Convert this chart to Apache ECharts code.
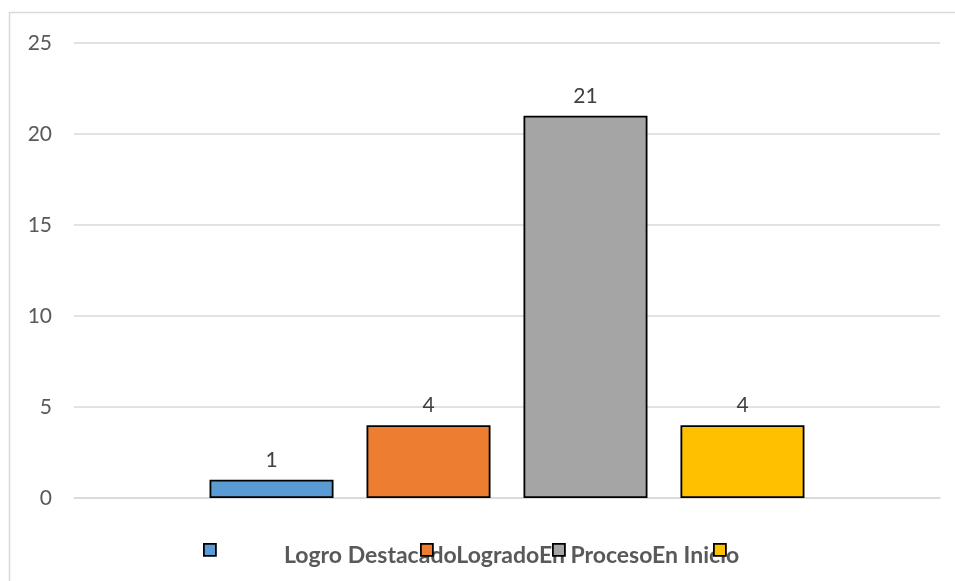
<!DOCTYPE html>
<html>
<head>
<meta charset="utf-8">
<script src="https://cdn.jsdelivr.net/npm/echarts@6/dist/echarts.min.js"></script>
<style>
  html, body { margin: 0; padding: 0; background: #ffffff; }
  #chart { width: 955px; height: 581px; }
</style>
</head>
<body>
<div id="chart"></div>
<script>
// Achievement levels and counts of students in each
const levels = ['Logro Destacado', 'Logrado', 'En Proceso', 'En Inicio'];
const counts = [1, 4, 21, 4];
const colors = ['#5b9bd5', '#ed7d31', '#a5a5a5', '#ffc000'];
const yTicks = { min: 0, max: 25, interval: 5 };

const chart = echarts.init(document.getElementById('chart'));

const series = levels.map((name, i) => ({
  name: name,
  type: 'bar',
  data: [counts[i]],
  barWidth: 124,
  barGap: '26.6%',
  itemStyle: { color: colors[i], borderColor: '#000000', borderWidth: 1.8 },
  label: {
    show: true,
    position: 'top',
    distance: 9,
    color: '#404040',
    fontFamily: 'Lato',
    fontSize: 21
  }
}));

// One swatch per legend entry, placed individually along the bottom
const swatchLeft = [203, 420, 552, 713];
const legends = levels.map((name, i) => ({
  data: [name],
  left: swatchLeft[i],
  top: 543,
  icon: 'rect',
  itemWidth: 12,
  itemHeight: 12,
  itemGap: 0,
  selectedMode: false,
  formatter: () => '',
  textStyle: { fontSize: 1, padding: 0 },
  padding: 0,
  z: 20,
  itemStyle: { borderColor: '#000000', borderWidth: 1.8 }
}));

chart.setOption({
  animation: false,
  grid: { left: 74, right: 15, top: 43, bottom: 83 },
  legend: legends,
  xAxis: {
    type: 'category',
    data: [''],
    axisLine: { show: true, lineStyle: { color: '#d9d9d9', width: 1.5 } },
    axisTick: { show: false },
    axisLabel: { show: false }
  },
  yAxis: {
    type: 'value',
    min: yTicks.min,
    max: yTicks.max,
    interval: yTicks.interval,
    axisLine: { show: false },
    axisTick: { show: false },
    axisLabel: { color: '#595959', fontFamily: 'Lato', fontSize: 21, margin: 22 },
    splitLine: { lineStyle: { color: '#d9d9d9', width: 1.5 } }
  },
  series: series,
  graphic: [
    {
      type: 'rect',
      shape: { x: 9.5, y: 12.5, width: 1000, height: 700 },
      style: { fill: 'none', stroke: '#d9d9d9', lineWidth: 1.5 },
      silent: true,
      z: -1
    },
    {
      type: 'text',
      left: 284,
      top: 544,
      style: {
        text: levels.join(''),
        fill: '#595959',
        font: 'bold 23px Lato'
      },
      z: 10
    }
  ]
});
</script>
</body>
</html>
